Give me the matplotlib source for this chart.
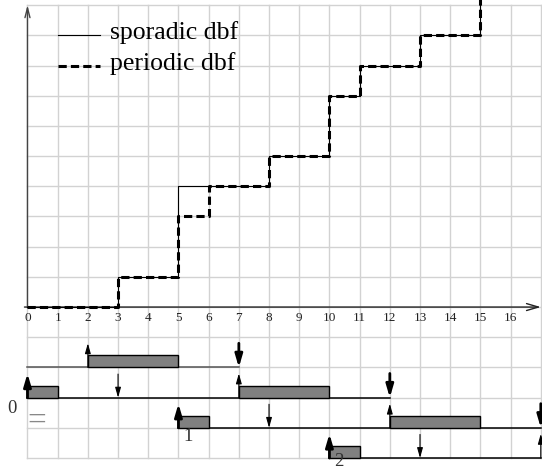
import matplotlib.pyplot as plt
from matplotlib.patches import Rectangle

plt.rcParams['font.family'] = ['Liberation Serif', 'DejaVu Serif']

# demand bound functions (step positions and values)
sporadic_t = [0, 3, 5, 8, 10, 11, 13, 15]
sporadic_v = [0, 1, 4, 5, 7, 8, 9, 11]
periodic_t = [0, 3, 5, 6, 8, 10, 11, 13, 15]
periodic_v = [0, 1, 3, 4, 5, 7, 8, 9, 11]

x_ticks = list(range(0, 17))

# schedule timelines below the axis
row_level = [-2, -3, -4, -5]
row_start = [0, 0, 5, 10]
row_end = [7, 12, 17, 17]

# executed jobs: (row, start, end)
job_row = [0, 1, 1, 2, 2, 3]
job_start = [2, 0, 7, 5, 12, 10]
job_end = [5, 1, 10, 6, 15, 11]

# arrival / deadline markers: (row, time)
first_release = [(1, 0), (2, 5), (3, 10)]
release = [(0, 2), (1, 7), (2, 12), (3, 17)]
deadline = [(0, 7), (1, 12), (2, 17)]
period_mark = [(1, 3), (2, 8), (3, 13)]

row_labels = ['0', '1', '2']
row_label_pos = [(-0.5, -3.35), (5.31, -4.3), (10.3, -5.12)]

fig = plt.figure(figsize=(5.42, 4.71), dpi=100)
ax = fig.add_axes([0, 0, 1, 1])
ax.set_xlim(-0.91, 17.04)
ax.set_ylim(-5.43, 10.17)
ax.axis('off')

# background grid
for gx in range(0, 18):
    ax.plot([gx, gx], [-5, 10], color='#d2d2d2', lw=1.0, zorder=0)
for gy in range(-5, 11):
    ax.plot([0, 17], [gy, gy], color='#d2d2d2', lw=1.0, zorder=0)

# axes with open arrowheads
ax.annotate('', xy=(17, 0), xytext=(-0.1, 0),
            arrowprops=dict(arrowstyle='->,head_length=0.85,head_width=0.25',
                            lw=1.0, color='#222222', shrinkA=0, shrinkB=0))
ax.annotate('', xy=(0, 10), xytext=(0, 0),
            arrowprops=dict(arrowstyle='->,head_length=0.7,head_width=0.18',
                            lw=1.0, color='#444444', shrinkA=0, shrinkB=0))

for t in x_ticks:
    ax.text(t, -0.35, str(t), ha='center', va='center', fontsize=9.5, color='#222222')

# dbf curves
ax.step(sporadic_t, sporadic_v, where='post', color='k', lw=0.8, zorder=3)
ax.step(periodic_t, periodic_v, where='post', color='k', lw=2.2,
        dashes=(2.7, 1.35), zorder=4)

# legend drawn by hand
ax.plot([1, 2.4], [9, 9], color='k', lw=0.8)
ax.plot([1, 2.4], [8, 8], color='k', lw=2.2, dashes=(2.7, 1.35))
ax.text(2.73, 8.88, 'sporadic dbf', fontsize=18.5, va='baseline', ha='left')
ax.text(2.73, 7.86, 'periodic dbf', fontsize=18.5, va='baseline', ha='left')

# timelines
for i, lvl in enumerate(row_level):
    c = '#555555' if i == 0 else 'k'
    ax.plot([row_start[i], row_end[i]], [lvl, lvl], color=c, lw=1.1, zorder=2)

for r, s, e in zip(job_row, job_start, job_end):
    ax.add_patch(Rectangle((s, row_level[r]), e - s, 0.4, facecolor='#808080',
                           edgecolor='k', lw=1.0, zorder=3))

big = dict(arrowstyle='-|>,head_length=0.75,head_width=0.22', lw=2.0,
           color='k', shrinkA=0, shrinkB=0)
thin = dict(arrowstyle='-|>,head_length=0.6,head_width=0.17', lw=0.8,
            color='k', shrinkA=0, shrinkB=0)

for r, t in first_release:
    lvl = row_level[r]
    ax.annotate('', xy=(t, lvl + 0.8), xytext=(t, lvl), arrowprops=big, zorder=5)
for r, t in release:
    lvl = row_level[r]
    ax.annotate('', xy=(t, lvl + 0.8), xytext=(t, lvl), arrowprops=thin, zorder=5)
for r, t in deadline:
    lvl = row_level[r]
    ax.annotate('', xy=(t, lvl), xytext=(t, lvl + 0.8), arrowprops=big, zorder=5)
for r, t in period_mark:
    lvl = row_level[r]
    ax.annotate('', xy=(t, lvl), xytext=(t, lvl + 0.78), arrowprops=thin, zorder=5)

for lab, (lx, ly) in zip(row_labels, row_label_pos):
    ax.text(lx, ly, lab, fontsize=13.5, ha='center', va='center', color='#333333')
ax.text(0.3, -3.8, '=', fontsize=24, ha='center', va='center', color='#888888')

fig.savefig('out.png', dpi=100)
